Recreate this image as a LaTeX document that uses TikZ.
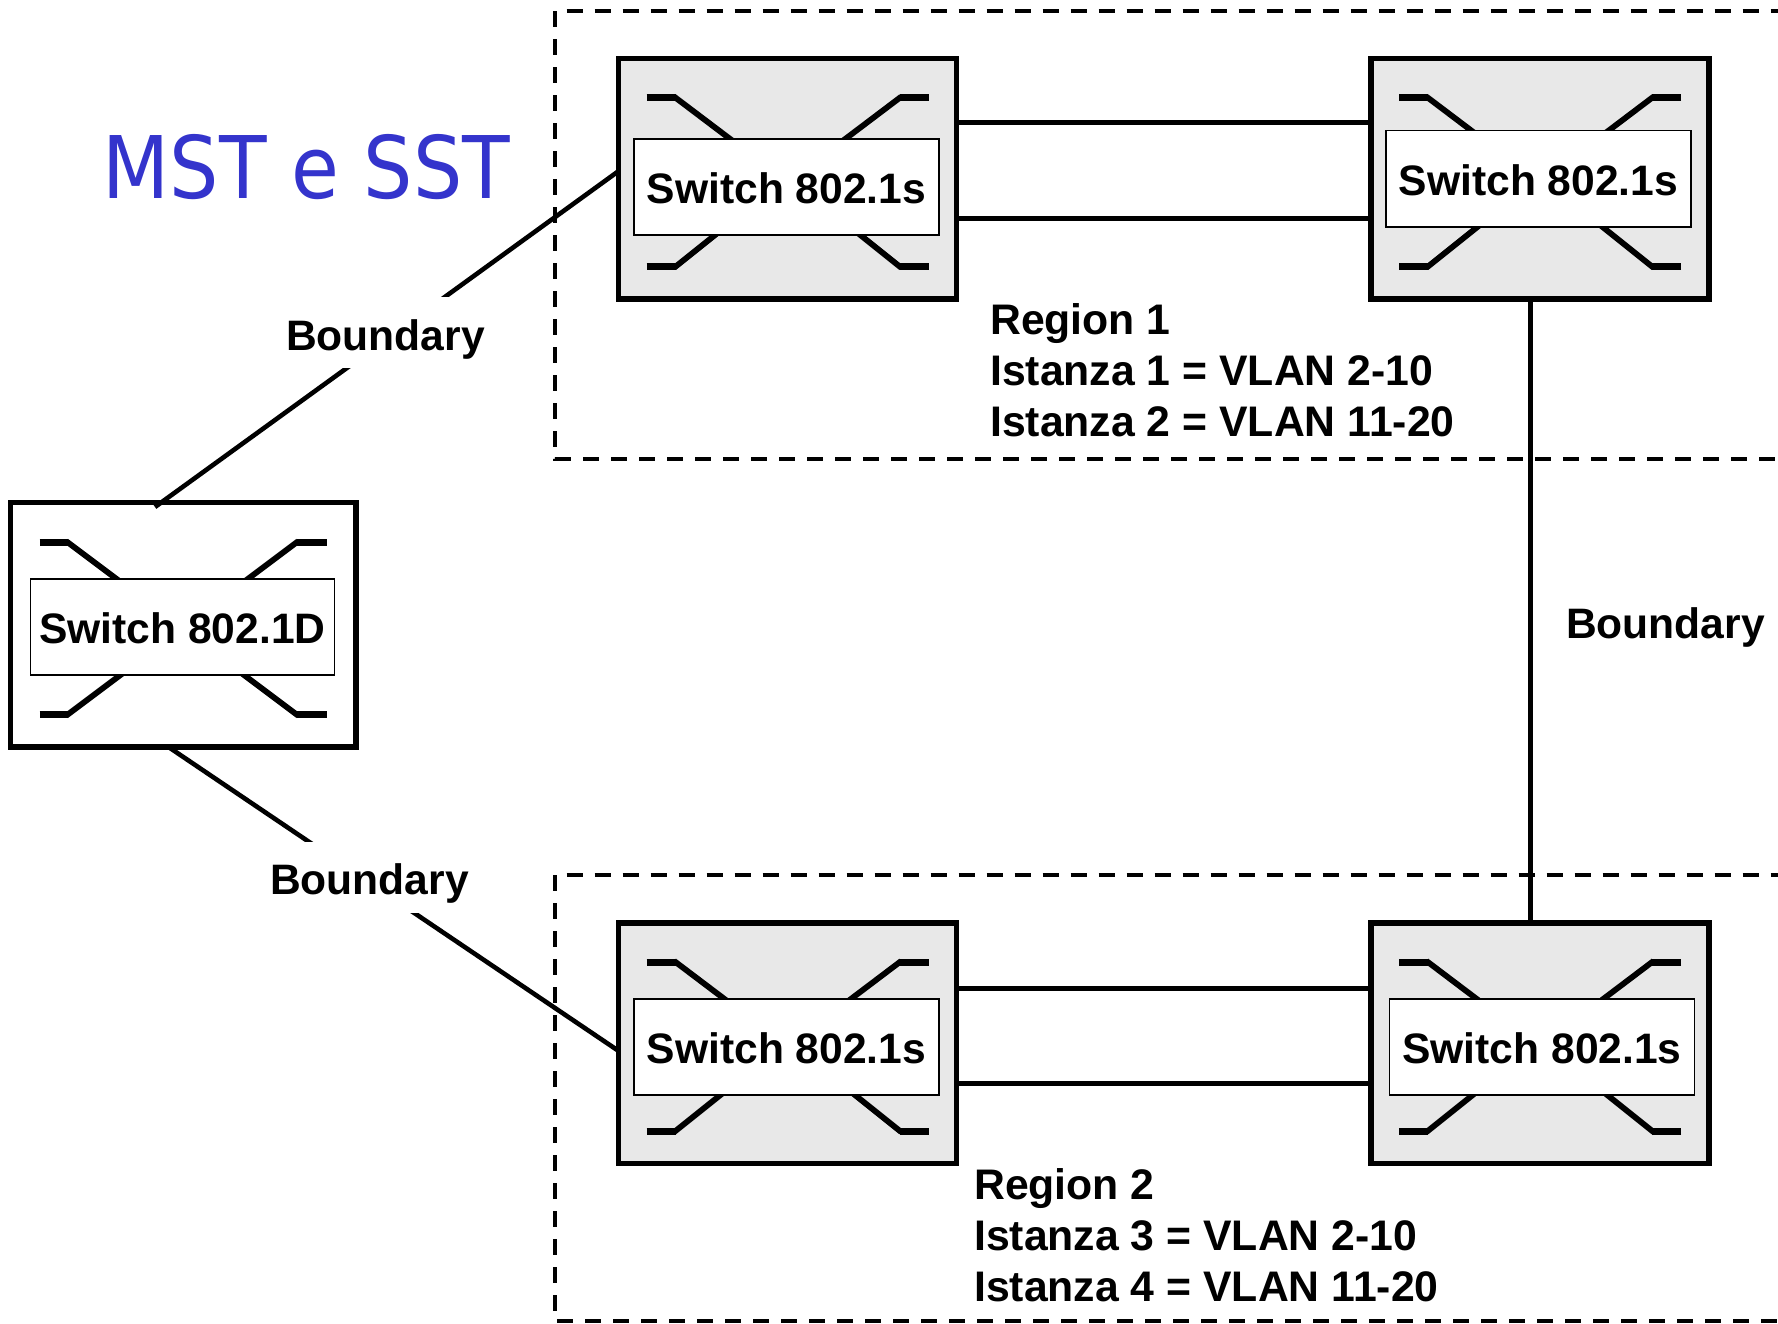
\documentclass[tikz,border=0pt]{standalone}
\usepackage{fontspec}
\setmainfont{Liberation Sans}
\newfontfamily\titlefont{DejaVu Sans Condensed}
\definecolor{titleblue}{RGB}{52,52,204}
\definecolor{swgray}{RGB}{232,232,232}
\newcommand{\lbl}[2][16.7]{\raisebox{-#1pt}[15pt][15pt]{#2}}
\tikzset{
  swbox/.style={draw=black,line width=5.5pt,inner sep=0pt,outer sep=0pt,anchor=north west},
  swlabel/.style={draw=black,fill=white,line width=1.6pt,inner sep=0pt,outer sep=0pt,font=\fontsize{42.6}{51}\bfseries\selectfont},
  porth/.style={draw=black,line width=7pt},
  portd/.style={draw=black,line width=5.8pt},
  link/.style={draw=black,line width=5pt},
  thinlink/.style={draw=black,line width=4.6pt},
  regionline/.style={draw=black,line width=4.2pt,dash pattern=on 16pt off 12pt},
  txt/.style={font=\fontsize{42.6}{51}\bfseries\selectfont,inner sep=0pt},
  regtxt/.style={font=\fontsize{42.75}{51}\bfseries\selectfont,inner sep=0pt,anchor=west,align=left},
  blabel/.style={txt,fill=white,inner xsep=3pt},
}
\begin{document}
\begin{tikzpicture}[x=1pt,y=-1pt]
\useasboundingbox (0,0) rectangle (1778,1323);
% region frames
\draw[regionline] (566.7,11) -- (1778,11);
\draw[regionline] (555,11) -- (555,459) -- (1778,459);
\draw[regionline] (566.7,875) -- (1778,875);
\draw[regionline] (555,875) -- (555,1321) -- (1778,1321);
% switches
\node[swbox,fill=swgray,minimum width=338pt,minimum height=240.5pt] (a) at (618.7,58.7) {};
\node[swbox,fill=swgray,minimum width=338pt,minimum height=240.5pt] (b) at (1371,58.7) {};
\node[swbox,fill=swgray,minimum width=338pt,minimum height=240.5pt] (c) at (618.7,923) {};
\node[swbox,fill=swgray,minimum width=338pt,minimum height=240.5pt] (d) at (1371,923) {};
\node[swbox,fill=white,minimum width=345.3pt,minimum height=244.5pt] (e) at (10.7,502.7) {};
% port strokes
\foreach \n in {a,b,c,d}{
  \draw[porth] ([shift={(28,39)}]\n.north west) -- ++(29,0);
  \draw[portd] ([shift={(55.5,38)}]\n.north west) -- ++(90,68);
  \draw[porth] ([shift={(310,39)}]\n.north west) -- ++(-29,0);
  \draw[portd] ([shift={(282.5,38)}]\n.north west) -- ++(-90,68);
  \draw[porth] ([shift={(28,208)}]\n.north west) -- ++(29,0);
  \draw[portd] ([shift={(55.5,209)}]\n.north west) -- ++(90,-72);
  \draw[porth] ([shift={(310,208)}]\n.north west) -- ++(-29,0);
  \draw[portd] ([shift={(282.5,209)}]\n.north west) -- ++(-90,-72);
}
\draw[porth] ([shift={(29,39.5)}]e.north west) -- ++(28,0);
\draw[portd] ([shift={(55.5,38.5)}]e.north west) -- ++(88,66);
\draw[porth] ([shift={(316,39.5)}]e.north west) -- ++(-30,0);
\draw[portd] ([shift={(287.5,38.5)}]e.north west) -- ++(-88,66);
\draw[porth] ([shift={(29,212)}]e.north west) -- ++(28,0);
\draw[portd] ([shift={(55.5,213)}]e.north west) -- ++(88,-66);
\draw[porth] ([shift={(316,212)}]e.north west) -- ++(-30,0);
\draw[portd] ([shift={(287.5,213)}]e.north west) -- ++(-88,-66);
% labels
\node[swlabel,minimum width=305pt,minimum height=96.5pt] (la) at (786.5,187) {\lbl{Switch 802.1s}};
\node[swlabel,minimum width=305pt,minimum height=96.5pt] (lb) at (1538.5,178.8) {\lbl{Switch 802.1s}};
\node[swlabel,minimum width=305pt,minimum height=96.5pt] (lc) at (786.5,1047) {\lbl{Switch 802.1s}};
\node[swlabel,minimum width=305pt,minimum height=96.5pt] (ld) at (1542,1047) {\lbl{Switch 802.1s}};
\node[swlabel,minimum width=304pt,minimum height=96.5pt] (le) at (182.3,627) {\lbl{Switch 802.1D}};
% parallel links
\draw[link] (a.north east |- 0,122.5) -- (b.north west |- 0,122.5);
\draw[link] (a.north east |- 0,218) -- (b.north west |- 0,218);
\draw[link] (c.north east |- 0,988) -- (d.north west |- 0,988);
\draw[link] (c.north east |- 0,1083) -- (d.north west |- 0,1083);
% boundary links
\coordinate (bfoot) at (1530.5,0);
\draw[link] (b.south -| bfoot) -- (d.north -| bfoot);
\coordinate (ea) at (155,507);
\coordinate (ae) at (618.7,171);
\coordinate (ec) at (170,748);
\coordinate (ce) at (618.7,1051);
\draw[thinlink] (ea) -- (ae);
\draw[thinlink] (ec) -- (ce);
\node[blabel,minimum height=71pt] (b1) at (385.5,332) {\lbl[18.7]{Boundary}};
\node[blabel,minimum height=71pt] (b2) at (369.5,877) {\lbl[17.5]{Boundary}};
\node[txt] (b3) at (1665.5,627.5) {Boundary};
% region text
\node[regtxt] (r1) at (990,370) {Region 1\\Istanza 1 = VLAN 2-10\\Istanza 2 = VLAN 11-20};
\node[regtxt] (r2) at (974,1235) {Region 2\\Istanza 3 = VLAN 2-10\\Istanza 4 = VLAN 11-20};
% title
\node[anchor=base west,inner sep=0pt,text=titleblue,font=\titlefont\fontsize{86.4}{100}\selectfont] (t) at (102.5,198.5) {MST e SST};
\end{tikzpicture}
\end{document}
